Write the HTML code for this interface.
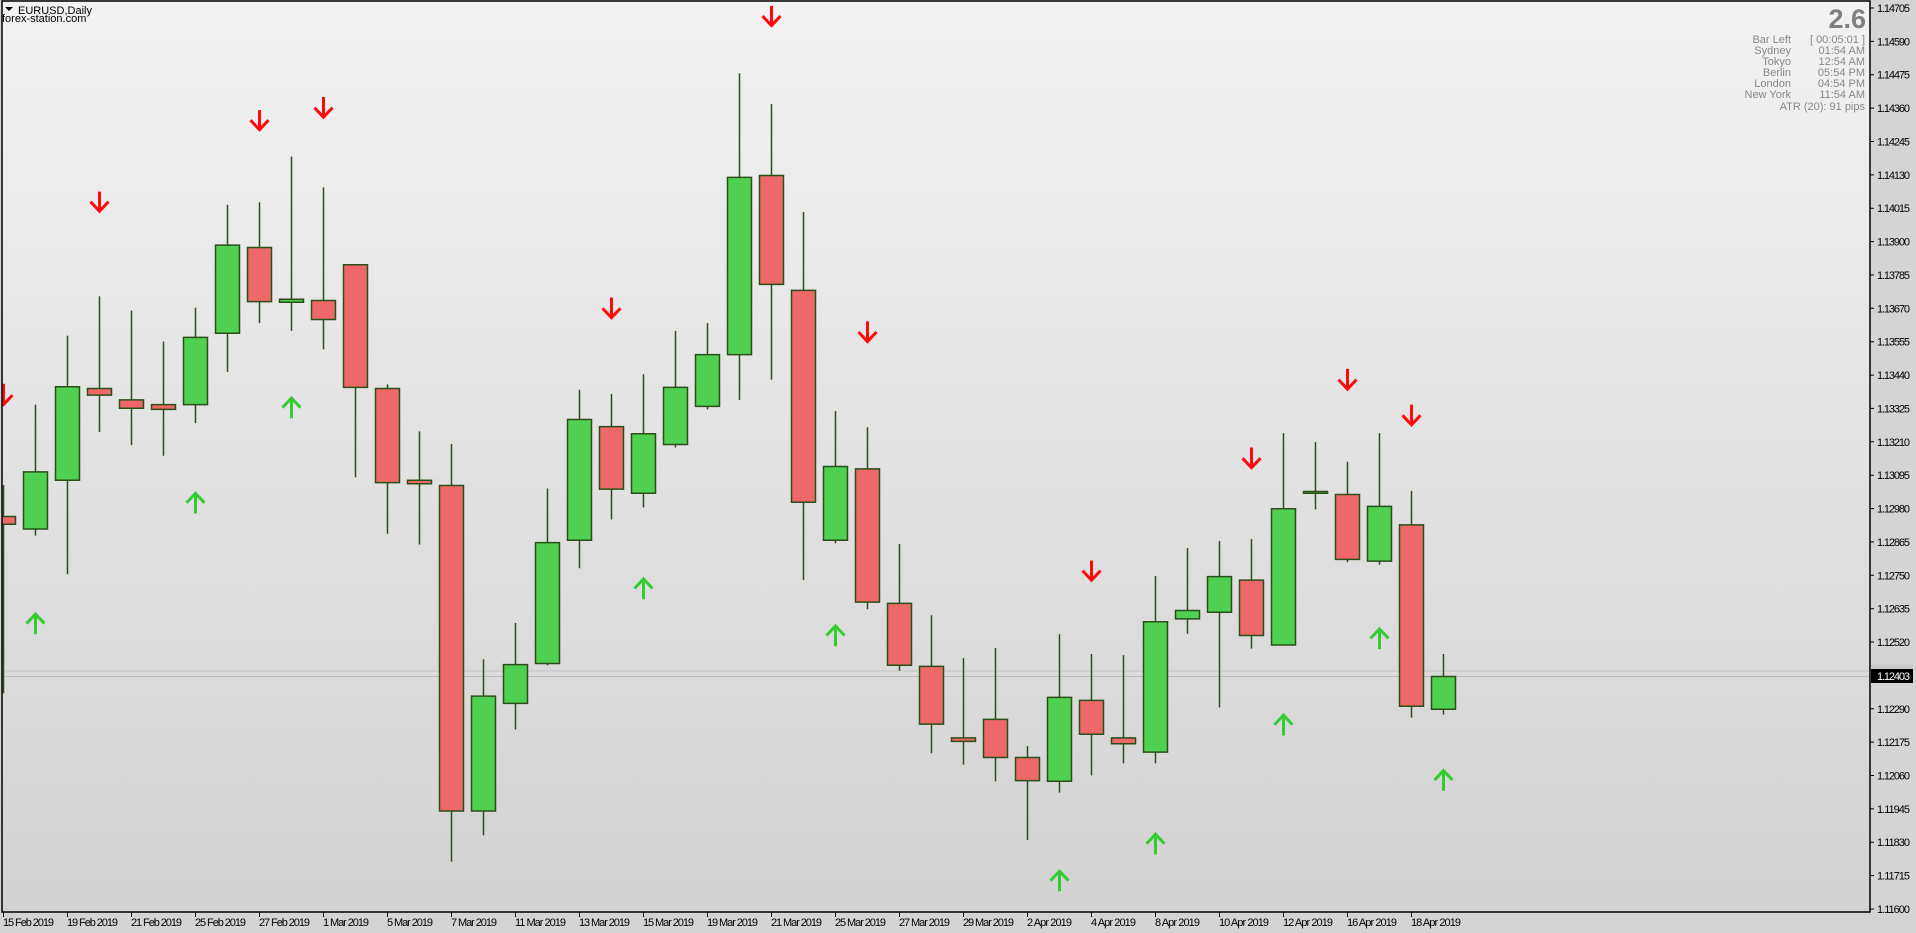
<!DOCTYPE html>
<html><head><meta charset="utf-8"><style>
html,body{margin:0;padding:0;background:#d4d4d4;width:1916px;height:933px;overflow:hidden}
svg{display:block;font-family:"Liberation Sans",sans-serif}
</style></head><body>
<svg width="1916" height="933" viewBox="0 0 1916 933" xmlns="http://www.w3.org/2000/svg">
<defs>
<linearGradient id="bg" x1="0" y1="0" x2="0" y2="1"><stop offset="0" stop-color="#f2f2f2"/><stop offset="1" stop-color="#d2d2d2"/></linearGradient>
<clipPath id="cp"><rect x="2" y="1" width="1868" height="911"/></clipPath>
</defs>
<rect x="0" y="0" width="1916" height="933" fill="#d4d4d4"/>
<rect x="2" y="1" width="1868" height="911" fill="url(#bg)"/>
<line x1="2" y1="671" x2="1870" y2="671" stroke="#c4c4c4" stroke-width="1"/>
<line x1="2" y1="676.5" x2="1870" y2="676.5" stroke="#bcbcbc" stroke-width="1"/>
<g clip-path="url(#cp)">
<g transform="scale(1,0.59503)" stroke="#2a4f18" stroke-width="1.5">
<path vector-effect="non-scaling-stroke" fill="none" d="M3.5,815V1165M35.5,680V900M67.5,564V965M99.5,498V726M131.5,522V748M163.5,574V766M195.5,517V711M227.5,344V625M259.5,340V543M291.5,263V556M323.5,315V587M355.5,445V802M387.5,646V897M419.5,725V915M451.5,746V1448M483.5,1108V1404M515.5,1047V1226M547.5,821V1118M579.5,655V955M611.5,662V873M643.5,629V853M675.5,556V752M707.5,543V688M739.5,123V672M771.5,175V638M803.5,356V975M835.5,691V913M867.5,718V1024M899.5,914V1127M931.5,1034V1266M963.5,1106V1285M995.5,1089V1313M1027.5,1254V1412M1059.5,1066V1332M1091.5,1099V1303M1123.5,1101V1283M1155.5,968V1283M1187.5,921V1065M1219.5,909V1189M1251.5,906V1090M1283.5,728V1084M1315.5,743V856M1347.5,776V945M1379.5,728V949M1411.5,825V1206M1443.5,1099V1201"/>
<g fill="#ee6868">
<rect vector-effect="non-scaling-stroke" x="-8.5" y="868" width="24" height="13"/>
<rect vector-effect="non-scaling-stroke" x="87.5" y="653" width="24" height="11"/>
<rect vector-effect="non-scaling-stroke" x="119.5" y="672" width="24" height="14"/>
<rect vector-effect="non-scaling-stroke" x="151.5" y="680" width="24" height="8"/>
<rect vector-effect="non-scaling-stroke" x="247.5" y="416" width="24" height="91"/>
<rect vector-effect="non-scaling-stroke" x="311.5" y="505" width="24" height="32"/>
<rect vector-effect="non-scaling-stroke" x="343.5" y="445" width="24" height="206"/>
<rect vector-effect="non-scaling-stroke" x="375.5" y="653" width="24" height="158"/>
<rect vector-effect="non-scaling-stroke" x="407.5" y="807" width="24" height="6"/>
<rect vector-effect="non-scaling-stroke" x="439.5" y="816" width="24" height="547"/>
<rect vector-effect="non-scaling-stroke" x="599.5" y="717" width="24" height="105"/>
<rect vector-effect="non-scaling-stroke" x="759.5" y="295" width="24" height="183"/>
<rect vector-effect="non-scaling-stroke" x="791.5" y="488" width="24" height="356"/>
<rect vector-effect="non-scaling-stroke" x="855.5" y="788" width="24" height="224"/>
<rect vector-effect="non-scaling-stroke" x="887.5" y="1014" width="24" height="104"/>
<rect vector-effect="non-scaling-stroke" x="919.5" y="1120" width="24" height="97"/>
<rect vector-effect="non-scaling-stroke" x="951.5" y="1240" width="24" height="6"/>
<rect vector-effect="non-scaling-stroke" x="983.5" y="1209" width="24" height="64"/>
<rect vector-effect="non-scaling-stroke" x="1015.5" y="1273" width="24" height="39"/>
<rect vector-effect="non-scaling-stroke" x="1079.5" y="1177" width="24" height="57"/>
<rect vector-effect="non-scaling-stroke" x="1111.5" y="1240" width="24" height="10"/>
<rect vector-effect="non-scaling-stroke" x="1239.5" y="975" width="24" height="93"/>
<rect vector-effect="non-scaling-stroke" x="1335.5" y="831" width="24" height="109"/>
<rect vector-effect="non-scaling-stroke" x="1399.5" y="882" width="24" height="305"/>
</g>
<g fill="#50d050">
<rect vector-effect="non-scaling-stroke" x="23.5" y="793" width="24" height="96"/>
<rect vector-effect="non-scaling-stroke" x="55.5" y="650" width="24" height="157"/>
<rect vector-effect="non-scaling-stroke" x="183.5" y="567" width="24" height="113"/>
<rect vector-effect="non-scaling-stroke" x="215.5" y="412" width="24" height="148"/>
<rect vector-effect="non-scaling-stroke" x="279.5" y="503" width="24" height="5"/>
<rect vector-effect="non-scaling-stroke" x="471.5" y="1170" width="24" height="193"/>
<rect vector-effect="non-scaling-stroke" x="503.5" y="1117" width="24" height="65"/>
<rect vector-effect="non-scaling-stroke" x="535.5" y="912" width="24" height="203"/>
<rect vector-effect="non-scaling-stroke" x="567.5" y="705" width="24" height="203"/>
<rect vector-effect="non-scaling-stroke" x="631.5" y="729" width="24" height="100"/>
<rect vector-effect="non-scaling-stroke" x="663.5" y="651" width="24" height="96"/>
<rect vector-effect="non-scaling-stroke" x="695.5" y="596" width="24" height="87"/>
<rect vector-effect="non-scaling-stroke" x="727.5" y="298" width="24" height="298"/>
<rect vector-effect="non-scaling-stroke" x="823.5" y="784" width="24" height="124"/>
<rect vector-effect="non-scaling-stroke" x="1047.5" y="1172" width="24" height="141"/>
<rect vector-effect="non-scaling-stroke" x="1143.5" y="1045" width="24" height="219"/>
<rect vector-effect="non-scaling-stroke" x="1175.5" y="1026" width="24" height="14"/>
<rect vector-effect="non-scaling-stroke" x="1207.5" y="969" width="24" height="60"/>
<rect vector-effect="non-scaling-stroke" x="1271.5" y="855" width="24" height="229"/>
<rect vector-effect="non-scaling-stroke" x="1303.5" y="826" width="24" height="3"/>
<rect vector-effect="non-scaling-stroke" x="1367.5" y="851" width="24" height="92"/>
<rect vector-effect="non-scaling-stroke" x="1431.5" y="1137" width="24" height="55"/>
</g>
<g fill="none" stroke="#ff0a0a" stroke-width="3">
<path vector-effect="non-scaling-stroke" d="M3.5,645V680M-5.5,664L3.5,680L12.5,664"/>
<path vector-effect="non-scaling-stroke" d="M99.5,322V355M90.5,339L99.5,355L108.5,339"/>
<path vector-effect="non-scaling-stroke" d="M259.5,185V218M250.5,202L259.5,218L268.5,202"/>
<path vector-effect="non-scaling-stroke" d="M323.5,163V197M314.5,181L323.5,197L332.5,181"/>
<path vector-effect="non-scaling-stroke" d="M611.5,500V534M602.5,518L611.5,534L620.5,518"/>
<path vector-effect="non-scaling-stroke" d="M771.5,10V43M762.5,27L771.5,43L780.5,27"/>
<path vector-effect="non-scaling-stroke" d="M867.5,540V574M858.5,558L867.5,574L876.5,558"/>
<path vector-effect="non-scaling-stroke" d="M1091.5,942V975M1082.5,959L1091.5,975L1100.5,959"/>
<path vector-effect="non-scaling-stroke" d="M1251.5,752V786M1242.5,770L1251.5,786L1260.5,770"/>
<path vector-effect="non-scaling-stroke" d="M1347.5,620V654M1338.5,638L1347.5,654L1356.5,638"/>
<path vector-effect="non-scaling-stroke" d="M1411.5,680V714M1402.5,698L1411.5,714L1420.5,698"/>
</g>
<g fill="none" stroke="#33cc33" stroke-width="3">
<path vector-effect="non-scaling-stroke" d="M35.5,1066V1032M26.5,1048L35.5,1032L44.5,1048"/>
<path vector-effect="non-scaling-stroke" d="M195.5,863V829M186.5,845L195.5,829L204.5,845"/>
<path vector-effect="non-scaling-stroke" d="M291.5,703V669M282.5,685L291.5,669L300.5,685"/>
<path vector-effect="non-scaling-stroke" d="M643.5,1007V973M634.5,989L643.5,973L652.5,989"/>
<path vector-effect="non-scaling-stroke" d="M835.5,1086V1052M826.5,1068L835.5,1052L844.5,1068"/>
<path vector-effect="non-scaling-stroke" d="M1059.5,1498V1464M1050.5,1480L1059.5,1464L1068.5,1480"/>
<path vector-effect="non-scaling-stroke" d="M1155.5,1436V1402M1146.5,1418L1155.5,1402L1164.5,1418"/>
<path vector-effect="non-scaling-stroke" d="M1283.5,1236V1202M1274.5,1218L1283.5,1202L1292.5,1218"/>
<path vector-effect="non-scaling-stroke" d="M1379.5,1091V1057M1370.5,1073L1379.5,1057L1388.5,1073"/>
<path vector-effect="non-scaling-stroke" d="M1443.5,1329V1295M1434.5,1311L1443.5,1295L1452.5,1311"/>
</g>
</g>
</g>
<rect x="2" y="1" width="1868" height="911" fill="none" stroke="#000" stroke-width="1.5"/>
<g font-size="11" fill="#000">
<path d="M5,7h8l-4,4z" fill="#000"/>
<text x="18" y="14">EURUSD,Daily</text>
<text x="2" y="22">forex-station.com</text>
</g>
<g fill="#888" font-size="11" text-anchor="end">
<text x="1866" y="28" font-size="27" font-weight="bold" fill="#808080">2.6</text>
<text x="1791" y="43">Bar Left</text><text x="1865" y="43">[ 00:05:01 ]</text>
<text x="1791" y="54">Sydney</text><text x="1865" y="54">01:54 AM</text>
<text x="1791" y="65">Tokyo</text><text x="1865" y="65">12:54 AM</text>
<text x="1791" y="76">Berlin</text><text x="1865" y="76">05:54 PM</text>
<text x="1791" y="87">London</text><text x="1865" y="87">04:54 PM</text>
<text x="1791" y="98">New York</text><text x="1865" y="98">11:54 AM</text>
<text x="1865" y="110">ATR (20): 91 pips</text>
</g>
<g stroke="#000" stroke-width="1">
<path d="M1870,8h4M1870,41.4h4M1870,74.7h4M1870,108.1h4M1870,141.5h4M1870,174.9h4M1870,208.2h4M1870,241.6h4M1870,275h4M1870,308.3h4M1870,341.7h4M1870,375.1h4M1870,408.4h4M1870,441.8h4M1870,475.2h4M1870,508.6h4M1870,541.9h4M1870,575.3h4M1870,608.7h4M1870,642h4M1870,708.8h4M1870,742.1h4M1870,775.5h4M1870,808.9h4M1870,842.2h4M1870,875.6h4M1870,909h4"/>
<path d="M3.5,912v5M67.5,912v5M131.5,912v5M195.5,912v5M259.5,912v5M323.5,912v5M387.5,912v5M451.5,912v5M515.5,912v5M579.5,912v5M643.5,912v5M707.5,912v5M771.5,912v5M835.5,912v5M899.5,912v5M963.5,912v5M1027.5,912v5M1091.5,912v5M1155.5,912v5M1219.5,912v5M1283.5,912v5M1347.5,912v5M1411.5,912v5"/>
</g>
<g font-size="11" fill="#000">
<text x="1877" y="12" textLength="33">1.14705</text><text x="1877" y="45.4" textLength="33">1.14590</text><text x="1877" y="78.7" textLength="33">1.14475</text><text x="1877" y="112.1" textLength="33">1.14360</text><text x="1877" y="145.5" textLength="33">1.14245</text><text x="1877" y="178.9" textLength="33">1.14130</text><text x="1877" y="212.2" textLength="33">1.14015</text><text x="1877" y="245.6" textLength="33">1.13900</text><text x="1877" y="279" textLength="33">1.13785</text><text x="1877" y="312.3" textLength="33">1.13670</text><text x="1877" y="345.7" textLength="33">1.13555</text><text x="1877" y="379.1" textLength="33">1.13440</text><text x="1877" y="412.4" textLength="33">1.13325</text><text x="1877" y="445.8" textLength="33">1.13210</text><text x="1877" y="479.2" textLength="33">1.13095</text><text x="1877" y="512.6" textLength="33">1.12980</text><text x="1877" y="545.9" textLength="33">1.12865</text><text x="1877" y="579.3" textLength="33">1.12750</text><text x="1877" y="612.7" textLength="33">1.12635</text><text x="1877" y="646" textLength="33">1.12520</text><text x="1877" y="712.8" textLength="33">1.12290</text><text x="1877" y="746.1" textLength="33">1.12175</text><text x="1877" y="779.5" textLength="33">1.12060</text><text x="1877" y="812.9" textLength="33">1.11945</text><text x="1877" y="846.2" textLength="33">1.11830</text><text x="1877" y="879.6" textLength="33">1.11715</text><text x="1877" y="913" textLength="33">1.11600</text>
</g>
<rect x="1871" y="665" width="42" height="10" fill="#c8c8c8"/>
<rect x="1871" y="669" width="42" height="14" fill="#000"/>
<text x="1877" y="680" font-size="11" fill="#fff" textLength="33">1.12403</text>
<g font-size="11" fill="#000">
<text x="3" y="926" textLength="51">15 Feb 2019</text><text x="67" y="926" textLength="51">19 Feb 2019</text><text x="131" y="926" textLength="51">21 Feb 2019</text><text x="195" y="926" textLength="51">25 Feb 2019</text><text x="259" y="926" textLength="51">27 Feb 2019</text><text x="323" y="926" textLength="46">1 Mar 2019</text><text x="387" y="926" textLength="46">5 Mar 2019</text><text x="451" y="926" textLength="46">7 Mar 2019</text><text x="515" y="926" textLength="51">11 Mar 2019</text><text x="579" y="926" textLength="51">13 Mar 2019</text><text x="643" y="926" textLength="51">15 Mar 2019</text><text x="707" y="926" textLength="51">19 Mar 2019</text><text x="771" y="926" textLength="51">21 Mar 2019</text><text x="835" y="926" textLength="51">25 Mar 2019</text><text x="899" y="926" textLength="51">27 Mar 2019</text><text x="963" y="926" textLength="51">29 Mar 2019</text><text x="1027" y="926" textLength="45">2 Apr 2019</text><text x="1091" y="926" textLength="45">4 Apr 2019</text><text x="1155" y="926" textLength="45">8 Apr 2019</text><text x="1219" y="926" textLength="50">10 Apr 2019</text><text x="1283" y="926" textLength="50">12 Apr 2019</text><text x="1347" y="926" textLength="50">16 Apr 2019</text><text x="1411" y="926" textLength="50">18 Apr 2019</text>
</g>
</svg>
</body></html>
